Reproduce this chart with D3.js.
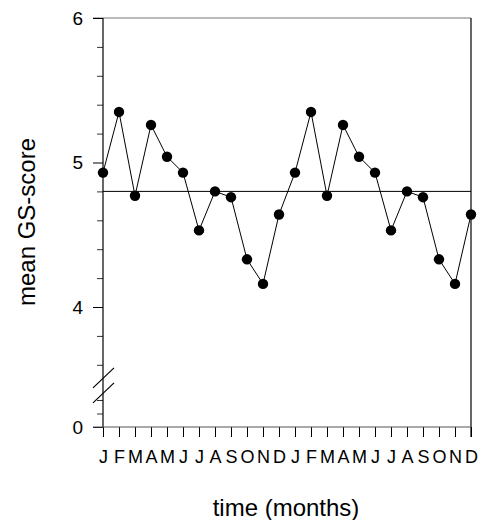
<!DOCTYPE html>
<html>
<head>
<meta charset="utf-8">
<script src="https://cdn.jsdelivr.net/npm/d3@7"></script>
<style>
  body { margin: 0; background: #fff; }
  svg { display: block; font-family: Arial, "Liberation Sans", Helvetica, sans-serif; }
</style>
</head>
<body>
<svg id="chart" width="480" height="520"></svg>
<script>
// ---- data ----
const months = ["J","F","M","A","M","J","J","A","S","O","N","D",
                "J","F","M","A","M","J","J","A","S","O","N","D"];
const scores = [4.93, 5.35, 4.77, 5.26, 5.04, 4.93, 4.53, 4.80, 4.76, 4.33, 4.16, 4.64,
                4.93, 5.35, 4.77, 5.26, 5.04, 4.93, 4.53, 4.80, 4.76, 4.33, 4.16, 4.64];
const meanLine = 4.80;
const yMajorTicks = [0, 4, 5, 6];
const yMinorTicks = [0.2, 0.4, 3.6, 3.8, 4.2, 4.4, 4.6, 4.8, 5.2, 5.4, 5.6, 5.8];
const xTitle = "time (months)";
const yTitle = "mean GS-score";

// ---- layout ----
const svg = d3.select("#chart");
const pLeft = 103, pRight = 471, pTop = 18, pBottom = 427;

const x = d3.scaleLinear().domain([0, months.length - 1]).range([pLeft, pRight]);
// broken axis: 0..0.4 below the break, 3.6..6 above
const y = d3.scaleLinear().domain([0, 0.4, 3.6, 6]).range([pBottom, 400, 364.8, pTop]);

// frame: top and right
svg.append("line").attr("x1", pLeft - 10).attr("x2", pRight).attr("y1", pTop).attr("y2", pTop)
  .attr("stroke", "#777").attr("stroke-width", 1.2);
svg.append("line").attr("x1", pRight).attr("x2", pRight).attr("y1", pTop).attr("y2", pBottom + 10)
  .attr("stroke", "#000").attr("stroke-width", 1.2);

// mean reference line
svg.append("line").attr("x1", pLeft).attr("x2", pRight)
  .attr("y1", y(meanLine)).attr("y2", y(meanLine))
  .attr("stroke", "#000").attr("stroke-width", 1);

// y axis major
const yMaj = svg.append("g").attr("transform", `translate(${pLeft},0)`)
  .call(d3.axisLeft(y).tickValues(yMajorTicks).tickSize(10).tickPadding(10).tickFormat(d3.format("d")));
yMaj.select(".domain").remove();
yMaj.selectAll("text").attr("font-size", 19).attr("fill", "#000")
  .attr("font-family", "Arial, 'Liberation Sans', sans-serif");
yMaj.selectAll("line").attr("stroke", "#000");
// y axis minor
const yMin = svg.append("g").attr("transform", `translate(${pLeft},0)`)
  .call(d3.axisLeft(y).tickValues(yMinorTicks).tickSize(6).tickFormat(""));
yMin.select(".domain").remove();
yMin.selectAll("line").attr("stroke", "#333");
// y axis line
svg.append("line").attr("x1", pLeft).attr("x2", pLeft).attr("y1", pTop).attr("y2", pBottom)
  .attr("stroke", "#000").attr("stroke-width", 1.2);

// axis break marks
const yb = (y(0.4) + y(3.6)) / 2 + 3;
[-7.5, 7.5].forEach(off => {
  svg.append("line")
    .attr("x1", pLeft - 10).attr("y1", yb + off + 10)
    .attr("x2", pLeft + 11).attr("y2", yb + off - 10)
    .attr("stroke", "#000").attr("stroke-width", 1.2);
});

// x axis
const xAx = svg.append("g").attr("transform", `translate(0,${pBottom})`)
  .call(d3.axisBottom(x).tickValues(d3.range(months.length)).tickSize(10).tickPadding(13)
        .tickFormat(i => months[i]));
xAx.select(".domain").remove();
xAx.selectAll("line").attr("stroke", "#000");
xAx.selectAll("text").attr("font-size", 18).attr("fill", "#000")
  .attr("font-family", "Arial, 'Liberation Sans', sans-serif");
svg.append("line").attr("x1", pLeft - 10).attr("x2", pRight).attr("y1", pBottom).attr("y2", pBottom)
  .attr("stroke", "#555").attr("stroke-width", 1.2);

// series line and points
svg.append("path").datum(scores)
  .attr("fill", "none").attr("stroke", "#000").attr("stroke-width", 1)
  .attr("d", d3.line().x((d, i) => x(i)).y(d => y(d)));
svg.append("g").selectAll("circle").data(scores).join("circle")
  .attr("cx", (d, i) => x(i)).attr("cy", d => y(d)).attr("r", 5.2).attr("fill", "#000");

// titles
svg.append("text").attr("x", 286).attr("y", 516).attr("text-anchor", "middle")
  .attr("font-size", 24).attr("fill", "#000").text(xTitle);
svg.append("text").attr("transform", "translate(35,222) rotate(-90)")
  .attr("text-anchor", "middle").attr("font-size", 24).attr("fill", "#000").text(yTitle);
</script>
</body>
</html>
